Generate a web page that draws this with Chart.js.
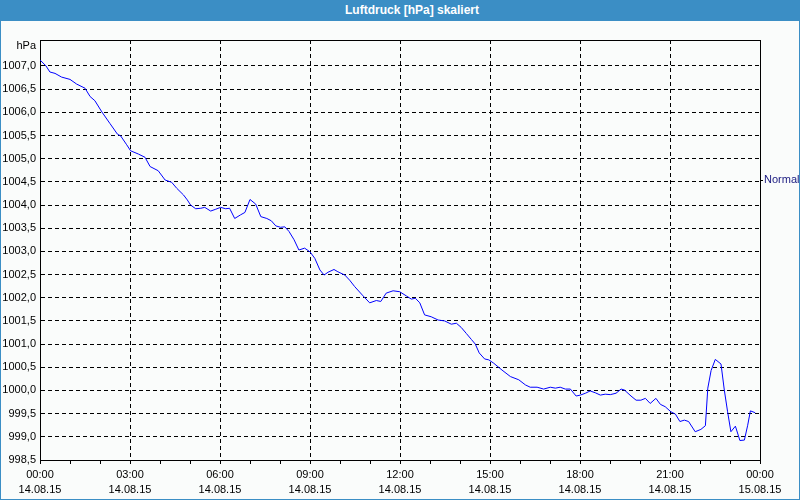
<!DOCTYPE html>
<html>
<head>
<meta charset="utf-8">
<script src="https://cdn.jsdelivr.net/npm/chart.js@4.4.0/dist/chart.umd.min.js"></script>
<style>
  body { margin: 0; background: #fff; }
  #wrap { position: relative; width: 800px; height: 500px; background: #fafcfb; }
  #title {
    position: absolute; left: 0; top: 0; width: 776px; height: 21px; padding-left: 24px;
    background: #3b8ec5; color: #fff; text-align: center;
    font: bold 12px "Liberation Sans", Arial, sans-serif; line-height: 21px;
  }
  #frame {
    position: absolute; left: 0; top: 0; width: 800px; height: 500px; box-sizing: border-box;
    border: 1px solid #3b8ec5; border-top: none; pointer-events: none;
  }
  canvas { position: absolute; left: 0; top: 0; }
</style>
</head>
<body>
<div id="wrap">
  <canvas id="chart" width="800" height="500"></canvas>
  <div id="title">Luftdruck [hPa] skaliert</div>
  <div id="frame"></div>
</div>
<script>
// time of day in hours (14.08.15 00:00 = 0)
var hours = [
  0.00, 0.20, 0.33, 0.50, 0.72, 1.00, 1.22, 1.50, 1.67, 1.83, 2.06, 2.33, 2.58, 2.69, 2.89,
  3.02, 3.28, 3.50, 3.67, 3.94, 4.17, 4.39, 4.56, 4.78, 4.91, 5.02, 5.19, 5.36, 5.49, 5.69,
  5.86, 6.02, 6.19, 6.32, 6.49, 6.69, 6.83, 7.00, 7.19, 7.36, 7.56, 7.71, 7.86, 8.02, 8.16,
  8.30, 8.47, 8.63, 8.82, 9.00, 9.16, 9.33, 9.47, 9.60, 9.80, 9.93, 10.16, 10.32, 10.49, 10.77,
  10.99, 11.21, 11.36, 11.54, 11.77, 11.99, 12.21, 12.38, 12.51, 12.66, 12.82, 13.04, 13.27, 13.49, 13.71,
  13.88, 14.04, 14.21, 14.38, 14.51, 14.64, 14.82, 14.96, 15.12, 15.40, 15.68, 15.96, 16.18, 16.34, 16.57,
  16.79, 17.01, 17.18, 17.34, 17.51, 17.68, 17.87, 18.01, 18.18, 18.34, 18.51, 18.68, 18.84, 19.01, 19.20,
  19.37, 19.48, 19.70, 19.87, 20.03, 20.18, 20.34, 20.53, 20.68, 20.84, 21.03, 21.18, 21.33, 21.48, 21.62,
  21.84, 22.03, 22.18, 22.26, 22.37, 22.51, 22.70, 22.81, 22.92, 23.03, 23.18, 23.33, 23.48, 23.59, 23.68,
  23.84
];
var pressure = [
  1007.13, 1007.00, 1006.87, 1006.84, 1006.76, 1006.71, 1006.61, 1006.52, 1006.34, 1006.25, 1006.01, 1005.76, 1005.53, 1005.49, 1005.30,
  1005.17, 1005.10, 1005.03, 1004.83, 1004.74, 1004.54, 1004.49, 1004.36, 1004.22, 1004.11, 1004.00, 1003.92, 1003.93, 1003.95, 1003.87,
  1003.91, 1003.95, 1003.92, 1003.93, 1003.71, 1003.79, 1003.84, 1004.12, 1004.02, 1003.75, 1003.71, 1003.66, 1003.55, 1003.52, 1003.53,
  1003.43, 1003.25, 1003.03, 1003.07, 1002.99, 1002.85, 1002.60, 1002.49, 1002.55, 1002.61, 1002.56, 1002.49, 1002.38, 1002.24, 1002.04,
  1001.89, 1001.94, 1001.92, 1002.10, 1002.15, 1002.13, 1002.04, 1001.97, 1001.99, 1001.89, 1001.63, 1001.59, 1001.52, 1001.50, 1001.43,
  1001.45, 1001.36, 1001.23, 1001.10, 1001.00, 1000.81, 1000.68, 1000.66, 1000.59, 1000.44, 1000.30, 1000.23, 1000.12, 1000.07, 1000.07,
  1000.03, 1000.07, 1000.05, 1000.07, 1000.03, 1000.03, 999.88, 999.90, 999.94, 999.99, 999.95, 999.90, 999.92, 999.91, 999.94,
  1000.03, 1000.01, 999.88, 999.79, 999.79, 999.83, 999.72, 999.83, 999.70, 999.65, 999.54, 999.49, 999.33, 999.36, 999.33,
  999.11, 999.16, 999.24, 1000.05, 1000.43, 1000.67, 1000.57, 1000.01, 999.54, 999.11, 999.23, 998.92, 998.93, 999.25, 999.56,
  999.52
];

var timeLabels = ['00:00', '03:00', '06:00', '09:00', '12:00', '15:00', '18:00', '21:00', '00:00'];
var dateLabels = ['14.08.15', '14.08.15', '14.08.15', '14.08.15', '14.08.15', '14.08.15', '14.08.15', '14.08.15', '15.08.15'];
var yTicks = [998.5, 999.0, 999.5, 1000.0, 1000.5, 1001.0, 1001.5, 1002.0, 1002.5, 1003.0,
              1003.5, 1004.0, 1004.5, 1005.0, 1005.5, 1006.0, 1006.5, 1007.0];
var normalLevel = 1004.54;
var yMin = 998.5, yMax = 1007.56;

var points = [];
for (var i in hours) {
    points.push({x: hours[i], y: pressure[i]});
}

var labelFont = {family: '"Liberation Sans", Arial, sans-serif', size: 11};

var framePlugin = {
    id: 'frame',
    afterDraw: function(chart) {
        var c = chart.ctx, a = chart.chartArea;
        c.save();
        c.strokeStyle = '#000';
        c.lineWidth = 1;
        c.beginPath();
        c.moveTo(a.left, a.top + 0.5);
        c.lineTo(a.right + 1, a.top + 0.5);
        c.stroke();
        c.fillStyle = '#000';
        c.font = '11px "Liberation Sans", Arial, sans-serif';
        c.textAlign = 'right';
        c.textBaseline = 'middle';
        c.fillText('hPa', 36, 46);
        c.restore();
    }
};

var ctx = document.getElementById('chart');

var lineChart = new Chart(ctx, {
    type: 'line',
    data: {
        datasets: [{
            data: points,
            borderColor: '#0000ff',
            borderWidth: 1,
            pointRadius: 0,
            tension: 0,
            fill: false
        }]
    },
    options: {
        responsive: false,
        animation: false,
        devicePixelRatio: 1,
        layout: {padding: {top: 40, left: 0, right: 0, bottom: 0}},
        plugins: {legend: {display: false}, tooltip: {enabled: false}},
        scales: {
            x: {
                type: 'linear',
                min: 0,
                max: 24,
                afterFit: function(s) { s.height = 40; },
                ticks: {
                    stepSize: 1,
                    autoSkip: false,
                    maxRotation: 0,
                    padding: 3,
                    color: '#000',
                    font: {family: labelFont.family, size: 11, lineHeight: 1.4},
                    callback: function(v) {
                        if (v % 3 !== 0) return '';
                        var k = v / 3;
                        return [timeLabels[k], dateLabels[k]];
                    }
                },
                grid: {
                    color: function(c) { return (c.tick && c.tick.value % 3 === 0) ? '#000' : 'rgba(0,0,0,0)'; },
                    tickColor: '#000',
                    tickLength: 4,
                    lineWidth: 1
                },
                border: {display: true, color: '#000', dash: [4, 3]}
            },
            y: {
                type: 'linear',
                min: yMin,
                max: yMax,
                afterFit: function(s) { s.width = 40; },
                afterBuildTicks: function(s) {
                    s.ticks = yTicks.map(function(v) { return {value: v}; });
                },
                ticks: {
                    padding: 4,
                    color: '#000',
                    font: labelFont,
                    callback: function(v) { return v.toFixed(1).replace('.', ','); }
                },
                grid: {color: '#000', drawTicks: false, lineWidth: 1},
                border: {display: true, color: '#000', dash: [4, 3]}
            },
            y2: {
                type: 'linear',
                position: 'right',
                min: yMin,
                max: yMax,
                afterFit: function(s) { s.width = 40; },
                afterBuildTicks: function(s) {
                    s.ticks = [{value: normalLevel}];
                },
                ticks: {
                    padding: 1,
                    color: '#1a1a80',
                    font: labelFont,
                    callback: function() { return 'Normal'; }
                },
                grid: {drawOnChartArea: false, tickLength: 3, tickColor: '#000'},
                border: {display: true, color: '#000'}
            }
        }
    },
    plugins: [framePlugin]
});
</script>
</body>
</html>
